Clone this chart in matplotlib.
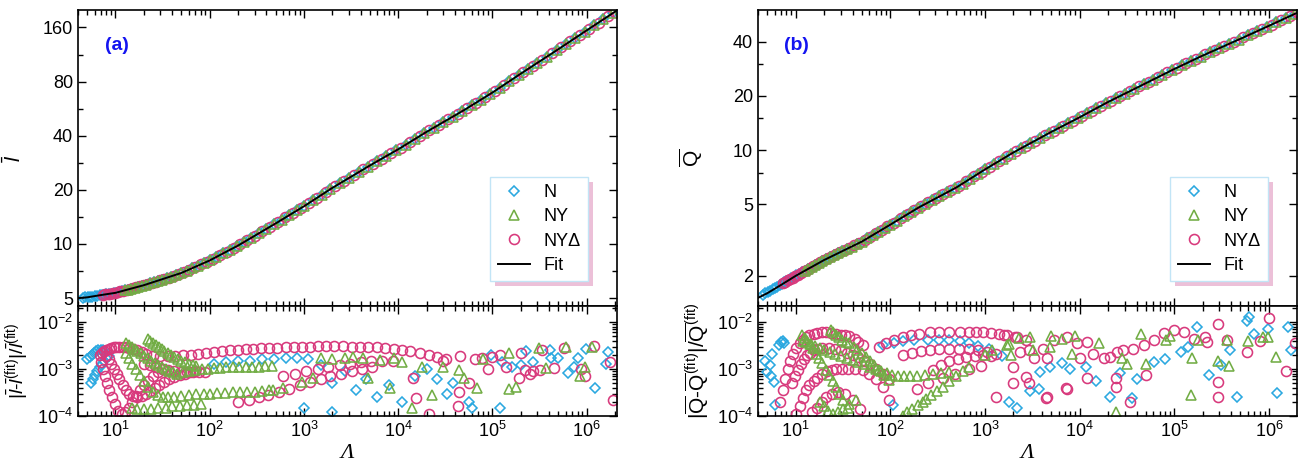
import numpy as np
import matplotlib
matplotlib.use('Agg')
import matplotlib.pyplot as plt
from matplotlib.ticker import FixedLocator, NullFormatter, FuncFormatter, LogLocator
from matplotlib.patches import Rectangle

plt.rcParams['font.family'] = ['Liberation Sans', 'DejaVu Sans']
plt.rcParams['mathtext.fontset'] = 'custom'
plt.rcParams['mathtext.rm'] = 'Liberation Sans'
plt.rcParams['mathtext.it'] = 'Liberation Sans:italic'
plt.rcParams['mathtext.bf'] = 'Liberation Sans:bold'

### simulated points along the curves (top panels), N and NY runs
lam_top = [4.5, 4.8, 5.1, 5.4, 5.7, 6.0, 6.4, 6.8, 7.2, 7.6,
	8.0, 8.5, 9.0, 9.6, 10.2, 10.9, 11.7, 12.6, 13.6, 14.7,
	16, 17.5, 19, 21, 23, 25.5, 28, 31, 35, 39,
	44, 50, 57, 65, 75, 87, 100, 118, 140, 165,
	195, 230, 275, 330, 400, 480, 580, 700, 850, 1000,
	1250, 1550, 1900, 2400, 3000, 3800, 4800, 6000, 7500, 9500,
	1.2e4, 1.5e4, 1.9e4, 2.4e4, 3.0e4, 3.8e4, 4.8e4, 6.0e4, 7.5e4, 9.5e4,
	1.2e5, 1.5e5, 1.9e5, 2.4e5, 3.0e5, 3.8e5, 4.8e5, 6.0e5, 7.5e5, 9.5e5,
	1.2e6, 1.5e6, 1.9e6]
l_top = [5.02, 5.04, 5.06, 5.08, 5.10, 5.13, 5.16, 5.19, 5.21, 5.23,
	5.25, 5.28, 5.30, 5.33, 5.37, 5.42, 5.47, 5.52, 5.58, 5.64,
	5.71, 5.79, 5.86, 5.94, 6.03, 6.13, 6.22, 6.32, 6.44, 6.56,
	6.72, 6.90, 7.10, 7.32, 7.58, 7.85, 8.10, 8.47, 8.87, 9.27,
	9.72, 10.23, 10.82, 11.45, 12.15, 12.84, 13.64, 14.48, 15.40, 16.2,
	17.48, 18.8, 20.15, 21.7, 23.27, 25.05, 26.95, 28.83, 30.82, 33.1,
	35.63, 38.29, 41.3, 44.4, 47.5, 51.1, 54.8, 58.9, 63.3, 68.3,
	74.1, 80.1, 86.9, 94.2, 101.6, 110.2, 119.3, 128.9, 139.3, 151.2,
	164, 177.1, 192.3]
Q_top = [1.567, 1.598, 1.628, 1.657, 1.684, 1.711, 1.745, 1.777, 1.808, 1.838,
	1.868, 1.902, 1.936, 1.974, 2.012, 2.051, 2.094, 2.140, 2.188, 2.239,
	2.295, 2.356, 2.413, 2.481, 2.540, 2.608, 2.671, 2.742, 2.829, 2.908,
	3.001, 3.10, 3.23, 3.365, 3.519, 3.686, 3.85, 4.058, 4.285, 4.514,
	4.760, 4.991, 5.246, 5.521, 5.826, 6.129, 6.512, 6.930, 7.392, 7.8,
	8.367, 8.952, 9.545, 10.22, 10.89, 11.65, 12.45, 13.24, 14.06, 14.99,
	16.01, 17.05, 18.24, 19.40, 20.56, 21.87, 23.25, 24.65, 26.15, 27.82,
	29.51, 31.19, 33.08, 34.96, 36.83, 38.92, 41.1, 43.36, 45.74, 48.41,
	51.22, 54.07, 57.28]
# smallest Lambda of the N and NY data sets
start_N, start_NY = 4.5, 12.6

### NY-Delta runs: (Lambda, l, Q)
top_NYD = [(7.4,5.22,1.823),(7.8,5.24,1.853),(8.25,5.265,1.885),(8.75,5.29,1.919),(9.3,5.315,1.955),
	(9.9,5.35,1.993),(10.55,5.395,2.031),(11.3,5.445,2.072),(12.15,5.495,2.117),(13.1,5.55,2.164),
	(14.15,5.61,2.213),(15.3,5.675,2.267),(16.7,5.75,2.325),(18.2,5.825,2.384),(20,5.90,2.447),
	(22,5.985,2.51),(24.2,6.08,2.574),(26.7,6.175,2.639),(29.5,6.27,2.706),(33,6.38,2.785),
	(37,6.50,2.868),(41.4,6.64,2.954),(46.9,6.81,3.05),(53.4,7.0,3.165),(60.9,7.21,3.297),
	(69.8,7.45,3.442),(80.8,7.71,3.602),(93.3,7.97,3.768),(108.6,8.28,3.954),(128.5,8.67,4.171),
	(152,9.07,4.4),(179,9.49,4.637),(212,9.97,4.875),(251,10.52,5.118),(301,11.13,5.383),
	(363,11.8,5.673),(438,12.49,5.977),(528,13.23,6.32),(637,14.05,6.721),(771,14.93,7.161),
	(922,15.8,7.596),(1118,16.83,8.083),(1392,18.13,8.66),(1716,19.46,9.248),(2135,20.91,9.883),
	(2683,22.47,10.55),(3376,24.14,11.27),(4271,25.98,12.05),(5367,27.87,12.84),(6708,29.81,13.65),
	(8441,31.94,14.52),(1.068e4,34.34,15.5),(1.342e4,36.93,16.53),(1.688e4,39.77,17.64),
	(2.135e4,42.82,18.82),(2.683e4,45.92,19.98),(3.376e4,49.27,21.21),(4.271e4,52.92,22.56),
	(5.367e4,56.8,23.95),(6.708e4,61.06,25.4),(8.441e4,65.75,26.98),(1.068e5,71.14,28.66),
	(1.342e5,77.05,30.35),(1.688e5,83.43,32.13),(2.135e5,90.48,34.02),(2.683e5,97.83,35.9),
	(3.376e5,105.8,37.87),(4.271e5,114.7,40.01),(5.367e5,124.0,42.23),(6.708e5,134.0,44.55),
	(8.441e5,145.1,47.07),(1.068e6,157.5,49.81),(1.342e6,170.4,52.64),(1.688e6,184.5,55.67),
	(2.0e6,196,58.2)]

fit_lam = [4.0, 5, 7, 10, 20, 50, 100, 200, 500, 1e3, 2e3, 5e3, 1e4, 2e4, 5e4, 1e5, 2e5, 5e5, 1e6, 2.1e6]
fit_l = [5.0, 5.05, 5.2, 5.35, 5.9, 6.9, 8.1, 9.8, 13.0, 16.2, 20.5, 27.3, 33.6, 42.0, 55.5, 69.5, 88.5, 121, 154, 199]
fit_Q = [1.51, 1.6, 1.78, 2.0, 2.45, 3.1, 3.85, 4.8, 6.2, 7.8, 9.7, 12.6, 15.2, 18.5, 23.5, 28.2, 33.5, 41.5, 49, 58.7]

### relative deviations from the fit, (Lambda, value in units of 1e-3)
resN_a = [(5.0,1.6),(5.3,1.8),(5.6,2.0),(5.9,2.2),(6.2,2.4),(6.6,2.5),(7.0,2.6),(7.4,2.6),
	(5.5,0.5),(5.8,0.6),(6.1,0.75),(6.4,0.9),(6.8,1.1),(7.2,1.3),(7.6,1.5),(8.0,1.7),(8.5,1.9),
	(110,1.3),(150,1.4),(200,1.5),(270,1.5),(360,1.6),(480,1.6),(640,1.7),(850,1.7),(1100,1.6),
	(1500,1.2),(2000,0.5),(2700,0.9),(3600,0.35),(4600,0.6),(6000,0.25),(8000,0.45),(1.1e4,0.2),(1.5e4,0.7),
	(2.0e4,1.0),(2.6e4,0.6),(3.3e4,0.3),(3.8e4,0.5),(5.6e4,0.2),(6.0e4,0.15),(9.7e4,1.96),(1.2e5,0.15),
	(1.26e5,1.4),(1.6e5,1.1),(2.0e5,1.2),(2.3e5,2.4),(2.7e5,1.4),(4.1e5,2.6),(4.2e5,1.7),(5.0e5,1.7),
	(6.3e5,0.84),(7.4e5,1.1),(8.0e5,1.7),(9.8e5,2.7),(1.24e6,0.4),(1.6e6,1.3),(1.7e6,2.3),(1000,0.15),(2000,0.12)]
resNYD_a = [(6.8,2.0),(7.2,2.2),(7.6,2.4),(8.0,2.6),(8.5,2.7),(9.0,2.8),(9.6,2.9),(10.2,3.0),(11,3.0),(12,3.0),
	(13,2.9),(14,2.8),(15.5,2.7),(17,2.5),(19,2.3),(21,2.1),
	(7.0,1.4),(7.3,1.0),(7.7,0.7),(8.1,0.5),(8.6,0.35),(9.2,0.25),(9.9,0.18),(10.7,0.13),(11.6,0.11),(12.6,0.12),
	(13.8,0.15),(15,0.2),(16.5,0.27),(18,0.35),(20,0.45),(22,0.55),(25,0.7),(28,0.85),(32,1.0),
	(8,1.9),(8.5,1.6),(9,1.3),(9.6,1.0),(10.3,0.8),(11,0.6),(12,0.45),(13,0.35),(14,0.3),(15.5,0.27),(17,0.26),
	(19,0.27),(21,0.3),(23,0.34),(26,0.4),(29,0.46),(33,0.53),(37,0.6),(42,0.67),(48,0.74),(55,0.8),(62,0.86),(70,0.9),
	(25,1.9),(30,1.85),(36,1.85),(43,1.9),(52,1.95),(63,2.0),(76,2.1),(92,2.2),(110,2.3),(135,2.4),(165,2.5),
	(200,2.6),(240,2.65),(290,2.7),(350,2.75),(430,2.8),(520,2.85),(640,2.9),(780,2.95),(950,3.0),(1150,3.0),
	(1400,3.05),(1700,3.05),(2100,3.05),(2600,3.05),(3200,3.0),(3900,3.0),(4800,2.95),(5900,2.9),(7300,2.8),
	(9000,2.7),(1.1e4,2.6),(1.35e4,2.4),(1.7e4,2.2),(2.1e4,2.0),(2.6e4,1.8),(3.2e4,1.6),
	(20,1.3),(23,1.2),(27,1.1),(31,1.0),(36,0.95),(42,0.9),(49,0.88),(57,0.86),(66,0.85),(77,0.86),(90,0.88),
	(200,0.2),(260,0.22),(330,0.25),(420,0.28),(540,0.32),(700,0.38),(900,0.45),(1150,0.52),(1500,0.6),
	(1900,0.7),(2500,0.8),(3200,0.9),(4100,1.0),(5300,1.1),
	(600,0.7),(800,0.8),(1050,0.9),(1400,1.0),(1800,1.1),(2400,1.2),(3100,1.3),(4000,1.4),(5200,1.45),
	(6800,1.5),(8800,1.5),
	(1.55e4,0.24),(2.1e4,0.11),(1.45e4,0.63),(3.0e4,1.5),(4.3e4,0.16),(4.4e4,0.33),(5.7e4,0.5),(7.8e4,1.7),
	(9e4,1.0),(1.2e5,2.0),(2e5,2.2),(1.9e5,0.64),(2.5e5,0.8),(2.7e5,0.9),(3.4e5,2.5),(3.2e5,0.94),(5.8e5,2.8),
	(8.8e5,1.0),(9.5e5,0.7),(1.2e6,3.1),(1.75e6,1.4),(1.9e6,0.22),(4.5e4,1.9),(6.5e4,1.6),(1.0e5,1.8),
	(1.4e5,1.1),(2.2e5,0.95),(4.5e5,1.05)]
resNY_a = [(13,3.6),(14,3.3),(15,3.0),(16,2.7),(17,2.4),(18.5,2.15),(20,1.9),(22,1.7),(24,1.5),(26,1.35),
	(28,1.2),(31,1.1),(34,1.0),(37,0.92),(41,0.85),(45,0.8),
	(22,4.4),(23.5,4.0),(25,3.6),(27,3.3),(29,3.0),(31,2.7),(33,2.45),(36,2.2),(39,2.0),(42,1.8),(46,1.65),
	(50,1.5),(55,1.4),(60,1.3),(66,1.2),(72,1.15),
	(52,0.85),(60,0.9),(70,0.95),(82,1.0),(96,1.02),(112,1.05),(130,1.07),(150,1.08),(175,1.1),(205,1.1),
	(240,1.12),(280,1.12),(330,1.13),(390,1.14),(460,1.15),
	(13,2.2),(14,1.7),(15,1.3),(16.5,1.0),(18,0.75),(20,0.55),(22,0.42),(25,0.33),(28,0.28),(32,0.26),
	(36,0.26),(42,0.26),(50,0.27),(60,0.28),(72,0.29),(86,0.3),(100,0.3),(120,0.31),(145,0.31),(175,0.32),
	(210,0.32),(250,0.33),(300,0.33),(360,0.34),(430,0.35),
	(15,0.15),(17,0.14),(20,0.14),(24,0.14),(28,0.15),(34,0.15),(40,0.16),(48,0.16),(57,0.17),(68,0.17),(80,0.18),
	(1.5e3,1.7),(2.0e3,1.6),(2.7e3,1.7),(3.3e3,1.8),(4.2e3,1.7),(6.4e3,1.55),(9.1e3,1.7),(1.1e4,1.4),(1.8e4,1.1),
	(3.0e4,1.1),(1.25e3,0.63),(950,0.53),(4.8e3,0.63),(8.1e3,0.39),(1.4e4,0.15),(2.3e4,0.28),(600,0.39),(470,0.36),
	(4.4e4,0.95),(5e4,0.66),(6.9e4,0.4),(8e4,1.6),(1.5e5,2.2),(1.5e5,0.38),(1.8e5,0.42),(3.1e5,2.8),(3.7e5,1.05),
	(6e5,3.0),(8.5e5,0.7),(9.5e5,1.1),(1.15e6,2.9)]

resN_b = [(4.8,1.5),(5.0,0.88),(5.6,2.1),(5.9,0.54),(6.1,0.17),(6.6,3.2),(7.0,3.8),(7.3,4.0),(7.6,3.6),
	(5.3,1.2),(5.5,0.7),
	(83,3.2),(110,3.6),(135,4.0),(180,4.1),(250,4.2),(330,4.2),(420,4.1),(540,3.9),(680,3.5),(850,3.1),
	(1100,2.7),(1500,1.9),
	(106,0.17),(2.2e3,0.15),(1.8e3,0.2),(3.0e3,0.34),(3.7e3,0.37),(3.8e3,0.87),(4.9e3,1.1),(6.5e3,1.35),
	(7.9e3,1.0),(1.18e4,1.1),(1.5e4,0.55),(2.1e4,0.25),(2.7e4,0.83),(3.6e4,0.24),(4.0e4,0.6),(6.1e4,1.4),
	(1.17e5,2.3),(1.75e5,8.0),(2.3e5,0.74),(3.1e5,1.2),(3.9e5,2.5),(4.6e5,0.26),(5.9e5,10.5),(6.1e5,13),
	(7e5,5.7),(9.7e5,7.2),(1.23e6,0.31),(1.6e6,7.7),(1.7e6,2.5),(8e4,1.6),(1.4e5,3.0)]
resNYD_b = [(6.9,0.2),(7.3,0.35),(7.8,0.6),(8.2,1.0),(8.8,1.5),(9.4,2.1),(10,2.8),(11,3.5),(12,4.2),(12.8,4.7),
	(14,5.2),(15.5,5.6),(17,5.9),(19,6.0),(21,6.0),(23.5,5.9),(26.5,5.7),(30,5.4),(33,5.2),(37,5.0),(42,4.4),
	(46,3.8),(51,3.2),
	(9.2,0.5),(9.8,0.7),(10.5,0.95),(11.3,1.25),(12.2,1.6),(13.2,1.95),(14.3,2.25),(15.5,2.5),(17,2.65),(19,2.75),
	(22.5,2.8),(26,2.7),(30,2.5),(35,2.25),(40,2.0),(46,1.8),(53,1.5),(61,1.25),(70,1.0),(83,0.8),(97,0.6),
	(10,0.11),(11,0.16),(12,0.24),(12.8,0.35),(14,0.45),(15.5,0.55),(17,0.65),(19,0.8),(21.5,0.9),(24,0.95),
	(27,1.0),(31,1.0),(36,1.0),(42,0.98),(51,0.95),(60,0.8),(70,0.6),(83,0.42),(97,0.22),
	(15,0.12),(17,0.15),(19,0.2),(21,0.25),(24,0.3),(28,0.32),(33,0.3),(40,0.22),(48,0.14),
	(76,3.0),(90,3.6),(110,4.2),(135,4.8),(165,5.2),(200,5.6),(260,6.0),(330,6.1),(420,6.15),(540,6.1),
	(680,6.05),(800,6.0),(950,6.0),(1150,5.8),(1400,5.5),(1700,5.2),(2100,4.7),(2700,4.1),
	(135,2.0),(170,2.2),(210,2.4),(260,2.55),(330,2.65),(420,2.7),(530,2.7),(680,2.65),(850,2.5),(1050,2.3),(1300,2.1),
	(280,0.96),(340,1.2),(420,1.45),(520,1.65),(630,1.8),(780,1.9),(950,1.95),(1150,1.9),
	(190,0.38),(250,0.5),(360,0.63),(480,0.8),(680,1.0),(900,1.15),
	(2.7e3,0.69),(1.3e3,0.26),(7.2e3,0.39),(4.4e3,0.24),(1.6e3,5.2),(2.2e3,4.8),(2.35e3,2.3),(2.9e3,2.5),
	(3.3e3,1.7),(4.1e3,2.7),(5.3e3,4.1),(7.3e3,4.8),(9.4e3,3.5),(1.2e4,3.8),(1.0e4,1.7),(1.4e4,2.1),(1.8e4,1.7),
	(2.1e4,1.8),(2.5e4,2.3),(2.9e4,2.5),(3.7e4,2.7),(4.8e4,3.2),(6.1e4,4.1),(7.8e4,5.8),(9.9e4,6.8),(1.26e5,6.1),
	(1.6e5,4.4),(2.1e5,4.8),(2.9e5,9.2),(2.9e5,0.53),(2.9e5,0.26),(2.2e5,3.8),(3.6e5,4.1),(5.9e5,2.3),(1e6,12),
	(2e3,1.1),(2e3,0.5),(2.9e3,0.5),(4.5e3,0.26),(7.3e3,0.38),(1.2e4,0.66),(2.4e4,0.66),(2.4e4,0.42),(3.4e4,0.2),
	(5e4,0.74),(4.5e3,1.7),(1.9e6,3.5),(1.5e6,0.9),(8e5,4.0)]
resNY_b = [(11.8,5.2),(12.5,4.6),(13.3,4.0),(14.2,3.4),(15.2,2.8),(16.5,2.1),(17.8,1.7),(19.2,1.35),(20.8,0.94),
	(22.5,0.75),(24.5,0.55),(26.5,0.42),(29,0.3),(32,0.22),(36,0.15),
	(23.5,6.8),(25,6.0),(27,5.3),(29,4.7),(31,4.2),(34,3.8),(37,3.5),(41,3.0),(45,2.6),(50,2.2),(55,1.8),
	(61,1.5),(68,1.2),(76,0.96),(85,0.75),(97,0.58),
	(12,4.0),(13,3.7),(14.5,3.4),(16,3.1),(18,2.8),(20,2.55),(23,2.3),(26,2.1),(30,1.9),(35,1.7),(40,1.55),
	(46,1.4),(53,1.25),(61,1.1),(70,1.0),(80,0.9),(92,0.82),(105,0.76),(120,0.72),(140,0.7),
	(160,0.7),(190,0.72),(230,0.75),(280,0.78),(340,0.82),(420,0.88),
	(135,0.1),(150,0.12),(170,0.14),(195,0.17),(220,0.2),(240,0.23),(270,0.28),(310,0.34),(360,0.42),
	(420,0.55),(490,0.7),(580,0.9),(680,1.1),
	(18,0.2),(20,0.16),(22,0.13),(25,0.11),(28,0.12),(32,0.14),(37,0.18),(43,0.22),
	(1.2e3,2.5),(1.7e3,3.2),(3e3,4.8),(1.8e3,3.4),(1.9e3,2.0),(3.2e3,2.6),(5e3,5.0),(4.9e3,3.0),(8.3e3,2.1),
	(9e3,5.0),(1.6e4,3.5),(2.4e4,0.12),(2.8e4,1.7),(3.2e4,1.3),(4.4e4,5.7),(5e4,1.3),(8.1e4,4.2),(9.1e4,5.0),
	(1.55e5,1.7),(1.5e5,0.28),(1.8e5,4.1),(2.9e5,1.5),(3.8e5,1.15),(3.6e5,4.2),(6e5,4.0),(8.6e5,4.8),
	(9.7e5,4.8),(1.2e6,1.8),(1e3,2.0),(2.3e3,4.5),(6.5e3,4.3)]

c_N, c_NY, c_NYD = '#2aa8e0', '#72ad45', '#d8397c'
style_N = dict(ls='none', marker='D', ms=4.8, mfc='none', mec=c_N, mew=1.15)
style_NY = dict(ls='none', marker='^', ms=7.2, mfc='none', mec=c_NY, mew=1.15)
style_NYD = dict(ls='none', marker='o', ms=7.2, mfc='none', mec=c_NYD, mew=1.15)

fig = plt.figure(figsize=(12.98, 4.70), dpi=100)
W, H = 1298., 470.
def px_axes(x0, y0, x1, y1):
	return fig.add_axes([x0/W, 1-y1/H, (x1-x0)/W, (y1-y0)/H])

lam_top_arr = np.array(lam_top)
def pick(vals, start):
	m = lam_top_arr >= start
	return lam_top_arr[m], np.array(vals)[m]
nyd = np.array(top_NYD)

panels = [
	(78, 'a', l_top, 1, fit_l, resN_a, resNY_a, resNYD_a,
		r'$\bar{l}$', r'$|\bar{l}$-$\bar{l}^{(\mathrm{fit})}|/\bar{l}^{(\mathrm{fit})}$', 14),
	(758, 'b', Q_top, 2, fit_Q, resN_b, resNY_b, resNYD_b,
		r'$\overline{\mathrm{Q}}$',
		r'$|\overline{\mathrm{Q}}$-$\overline{\mathrm{Q}}^{(\mathrm{fit})}|/\overline{\mathrm{Q}}^{(\mathrm{fit})}$', 15),
]

for x0, tag, top_vals, col, fit_vals, rN, rNY, rNYD, ylab_top, ylab_bot, fs_bot in panels:
	ax = px_axes(x0, 10, x0+539, 306)
	axr = px_axes(x0, 306, x0+539, 416)
	axr.sharex(ax)

	x, y = pick(top_vals, start_N)
	hN, = ax.plot(x, y, **style_N)
	hNYD, = ax.plot(nyd[:, 0], nyd[:, col], **style_NYD)
	x, y = pick(top_vals, start_NY)
	hNY, = ax.plot(x, y, **style_NY)
	hfit, = ax.plot(fit_lam, fit_vals, color='k', lw=1.4)

	for pts, st in ((rN, style_N), (rNYD, style_NYD), (rNY, style_NY)):
		p = np.array(pts)
		axr.plot(p[:, 0], p[:, 1]*1e-3, **st)

	for a in (ax, axr):
		a.set_xscale('log')
		a.set_yscale('log')
		a.set_xlim(4.0, 2.1e6 if tag == 'a' else 1.98e6)
		a.xaxis.set_major_locator(LogLocator(base=10, numticks=20))
		a.xaxis.set_minor_locator(LogLocator(base=10, subs=np.arange(2, 10), numticks=20))
		a.tick_params(which='both', direction='in', top=True, right=True, labelsize=13, width=1)
		a.tick_params(which='major', length=6)
		a.tick_params(which='minor', length=3.5)
		for s in a.spines.values():
			s.set_linewidth(1.2)
	ax.tick_params(labelbottom=False)

	if tag == 'a':
		ax.set_ylim(4.52, 200)
		ax.yaxis.set_major_locator(FixedLocator([5, 10, 20, 40, 80, 160]))
		ax.yaxis.set_minor_locator(FixedLocator([7.07, 14.1, 28.3, 56.6, 113]))
	else:
		ax.set_ylim(1.36, 60)
		ax.yaxis.set_major_locator(FixedLocator([2, 5, 10, 20, 40]))
		ax.yaxis.set_minor_locator(FixedLocator([7.5, 15, 30]))
	ax.yaxis.set_major_formatter(FuncFormatter(lambda v, p: '%g' % v))
	ax.yaxis.set_minor_formatter(NullFormatter())

	axr.set_ylim(1e-4, 0.022)
	axr.yaxis.set_major_locator(LogLocator(base=10, numticks=10))
	axr.yaxis.set_minor_locator(LogLocator(base=10, subs=np.arange(2, 10), numticks=10))
	axr.yaxis.set_minor_formatter(NullFormatter())

	ax.set_ylabel(ylab_top, fontsize=15)
	ax.yaxis.set_label_coords(-0.098, 0.5)
	axr.set_ylabel(ylab_bot, fontsize=fs_bot)
	axr.yaxis.set_label_coords(-0.088, 0.5)
	axr.set_xlabel('Λ', fontsize=16, fontstyle='italic', family='Liberation Serif', labelpad=2)

	ax.text(0.072, 0.88, '(%s)' % tag, transform=ax.transAxes, color='#1414f0',
		fontsize=14, fontweight='bold', ha='center', va='center')

	leg = ax.legend([hN, hNY, hNYD, hfit], ['N', 'NY', 'NYΔ', 'Fit'], loc='lower right',
		bbox_to_anchor=(0.946, 0.084), borderaxespad=0, fontsize=13, fancybox=False,
		framealpha=1, edgecolor='#c2e5f6', handlelength=1.8, handletextpad=0.75,
		labelspacing=0.4, borderpad=0.4)
	leg.get_frame().set_linewidth(1.0)
	fig.canvas.draw()
	bb = leg.get_frame().get_window_extent().transformed(ax.transAxes.inverted())
	dx, dy = 5/539., 5/296.
	ax.add_patch(Rectangle((bb.x0+dx, bb.y0-dy), bb.width, bb.height, transform=ax.transAxes,
		facecolor='#ecc0d8', edgecolor='none', zorder=4.5, clip_on=False))

fig.savefig('out.png', dpi=100)
